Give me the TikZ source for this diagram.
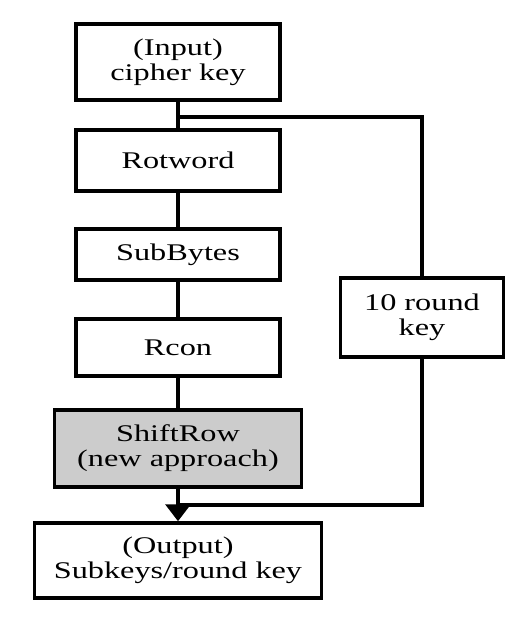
\documentclass[tikz,border=0pt]{standalone}
\usepackage{fontspec}
\setmainfont{Liberation Serif}[FakeStretch=1.35]
\usepackage{tikz}
\usetikzlibrary{arrows.meta,positioning}

\begin{document}
\begin{tikzpicture}
		[
			x=0.0125cm,
			y=-0.0125cm,
			align=center,
			font=\fontsize{8.5}{8.9}\selectfont,
			block/.style={draw, line width=1.2pt, inner sep=0pt, minimum width=2.55cm},
			wire/.style={line width=1.2pt},
			arrow/.style={wire, -{Triangle[length=0.21cm, width=0.31cm]}}
		]
		\useasboundingbox (0,0) rectangle (517,621);

		% blocks
		\node[block, minimum height=0.95cm]		(input) at ( 178,  62.0 ) {(Input)\\cipher key};
		\node[block, minimum height=0.76cm]		(rot)   at ( 178, 160.5 ) {Rotword};
		\node[block, minimum height=0.64cm]		(sub)   at ( 178, 254.5 ) {SubBytes};
		\node[block, minimum height=0.71cm]		(rcon)  at ( 178, 347.5 ) {Rcon};
		\node[block, fill=gray!40, minimum width=3.09cm, minimum height=0.96cm]
												(shift) at ( 178, 448.5 ) {ShiftRow\\(new approach)};
		\node[block, minimum width=3.58cm, minimum height=0.94cm]
												(out)   at ( 178, 560.5 ) {(Output)\\Subkeys/round key};
		\node[block, minimum width=2.03cm, minimum height=0.99cm]
												(rkey)  at ( 422, 317.5 ) {10 round\\key};

		% branch points
		\coordinate (split) at ( 178, 117 );
		\coordinate (merge) at ( 178, 505 );

		% paths
		\foreach \from/\to in
		{
			input/rot, rot/sub,
			sub/rcon, rcon/shift}
		\draw[wire] (\from) -- (\to);
		\draw[wire] (split) -| (rkey.north);
		\draw[wire] (rkey.south) |- (merge);
		\draw[arrow] (shift.south) -- (out.north);

	\end{tikzpicture}
\end{document}
